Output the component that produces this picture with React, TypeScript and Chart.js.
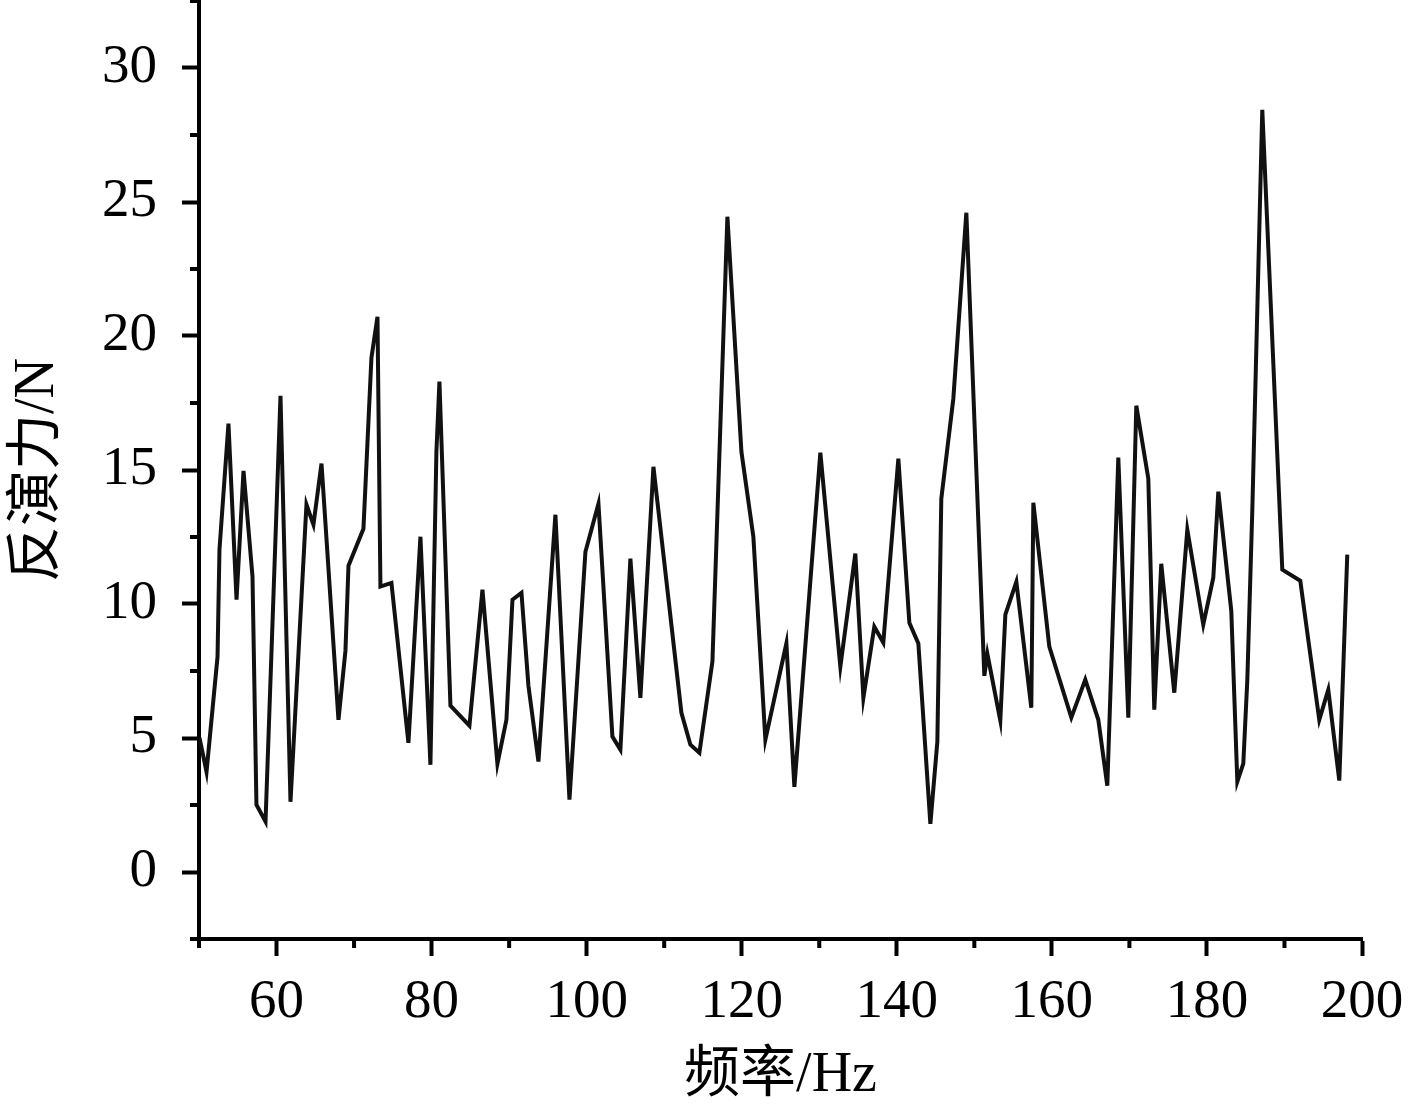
import React, { useEffect, useRef } from 'react';
import { Chart, registerables } from 'chart.js';

Chart.register(...registerables);

// Frequency (Hz) of each sample
const frequencies = [
  50.06, 50.97, 52.39, 52.64, 53.8, 54.84, 55.74, 56.9, 57.41, 58.58,
  60.51, 61.8, 63.86, 64.76, 65.8, 67.99, 68.89, 69.28, 71.21, 72.24,
  73.02, 73.4, 74.82, 77.01, 78.56, 79.85, 80.62, 81.01, 82.43, 84.88,
  86.56, 88.49, 89.65, 90.43, 91.59, 92.49, 93.78, 95.97, 97.78, 99.84,
  101.52, 103.32, 104.35, 105.64, 106.93, 108.61, 112.22, 113.38, 114.54, 116.22,
  118.15, 119.96, 121.5, 123.05, 125.76, 126.79, 130.14, 132.72, 134.65, 135.69,
  137.1, 138.26, 140.2, 141.62, 142.78, 144.33, 145.23, 145.74, 147.29, 148.97,
  151.29, 151.68, 153.35, 154.0, 155.42, 157.35, 157.61, 159.67, 162.51, 164.31,
  165.99, 167.15, 168.57, 169.86, 170.89, 172.44, 173.21, 174.11, 175.79, 177.47,
  179.53, 180.82, 181.47, 183.14, 183.92, 184.69, 185.21, 185.85, 187.14, 189.72,
  192.04, 193.07, 194.49, 195.65, 197.07, 198.1,
];

// Inverted force (N) at each frequency
const forces = [
  5.01, 3.74, 8.03, 12.03, 16.73, 10.16, 14.97, 11.02, 2.51, 1.88,
  17.77, 2.62, 13.71, 12.96, 15.24, 5.68, 8.26, 11.43, 12.81, 19.19,
  20.72, 10.65, 10.79, 4.82, 12.51, 4.0, 15.68, 18.3, 6.21, 5.46,
  10.53, 4.04, 5.68, 10.16, 10.42, 6.95, 4.12, 13.33, 2.7, 11.95,
  13.74, 5.05, 4.56, 11.69, 6.5, 15.12, 5.94, 4.75, 4.45, 7.85,
  24.45, 15.68, 12.51, 4.94, 8.53, 3.18, 15.65, 7.66, 11.88, 6.5,
  9.15, 8.56, 15.42, 9.3, 8.53, 1.8, 4.86, 13.93, 17.66, 24.6,
  7.32, 8.14, 5.65, 9.6, 10.83, 6.13, 13.78, 8.41, 5.76, 7.18,
  5.68, 3.22, 15.46, 5.76, 17.4, 14.68, 6.06, 11.5, 6.69, 12.77,
  9.23, 10.98, 14.19, 9.75, 3.37, 4.04, 7.18, 13.48, 28.44, 11.28,
  10.87, 8.67, 5.68, 6.8, 3.41, 11.84,
];

const xMajorTicks = [60, 80, 100, 120, 140, 160, 180, 200];
const xMinorTicks = [50, 70, 90, 110, 130, 150, 170, 190];
const yMajorTicks = [0, 5, 10, 15, 20, 25, 30];
const yMinorTicks = [-2.5, 2.5, 7.5, 12.5, 17.5, 22.5, 27.5, 32.5];

const xTitle = '频率/Hz';
const yTitle = '反演力/N';

const FONT = "'Liberation Serif', 'Noto Sans CJK SC', serif";

const minorTickPlugin = {
  id: 'minorTicks',
  afterDraw(chart: any) {
    const { ctx, chartArea, scales } = chart;
    const xs = scales.x;
    const ys = scales.y;
    ctx.save();
    ctx.strokeStyle = '#000';
    ctx.lineWidth = 4;
    ctx.lineCap = 'butt';
    ctx.beginPath();
    yMinorTicks.forEach((v) => {
      const py = ys.getPixelForValue(v);
      ctx.moveTo(chartArea.left, py);
      ctx.lineTo(chartArea.left - 9, py);
    });
    xMinorTicks.forEach((v) => {
      const px = xs.getPixelForValue(v);
      ctx.moveTo(px, chartArea.bottom);
      ctx.lineTo(px, chartArea.bottom + 9);
    });
    ctx.stroke();
    ctx.restore();
  },
};

export default function App() {
  const canvasRef = useRef<HTMLCanvasElement | null>(null);

  useEffect(() => {
    if (!canvasRef.current) return;
    const points = frequencies.map((f, i) => ({ x: f, y: forces[i] }));
    const chart = new Chart(canvasRef.current, {
      type: 'line',
      data: {
        datasets: [
          {
            data: points,
            borderColor: '#111111',
            borderWidth: 4,
            pointRadius: 0,
            tension: 0,
            fill: false,
            borderJoinStyle: 'miter',
          },
        ],
      },
      options: {
        responsive: false,
        animation: false,
        events: [],
        layout: { padding: { left: 0, right: 55, top: 1, bottom: 0 } },
        plugins: {
          legend: { display: false },
          tooltip: { enabled: false },
        },
        scales: {
          x: {
            type: 'linear',
            min: 50,
            max: 200,
            afterBuildTicks: (s: any) => {
              s.ticks = xMajorTicks.map((v) => ({ value: v }));
            },
            afterFit: (s: any) => {
              s.height = 165;
              s.paddingLeft = 0;
              s.paddingRight = 0;
            },
            grid: {
              drawOnChartArea: false,
              drawTicks: true,
              tickLength: 17,
              tickWidth: 4,
              tickColor: '#000',
            },
            border: { display: true, color: '#000', width: 4 },
            ticks: {
              autoSkip: false,
              maxRotation: 0,
              color: '#000',
              padding: 14,
              font: { family: FONT, size: 55, lineHeight: 1.2 },
            },
            title: {
              display: true,
              text: xTitle,
              color: '#000',
              padding: { top: 0, bottom: 0 },
              font: { family: FONT, size: 56, lineHeight: 1 },
            },
          },
          y: {
            type: 'linear',
            min: -2.5,
            max: 32.5,
            afterBuildTicks: (s: any) => {
              s.ticks = yMajorTicks.map((v) => ({ value: v }));
            },
            afterFit: (s: any) => {
              s.width = 199;
              s.paddingTop = 0;
              s.paddingBottom = 0;
            },
            grid: {
              drawOnChartArea: false,
              drawTicks: true,
              tickLength: 17,
              tickWidth: 4,
              tickColor: '#000',
            },
            border: { display: true, color: '#000', width: 4 },
            ticks: {
              autoSkip: false,
              color: '#000',
              padding: 25,
              font: { family: FONT, size: 55, lineHeight: 1.2 },
            },
            title: {
              display: true,
              text: yTitle,
              color: '#000',
              padding: { top: 10, bottom: 0 },
              font: { family: FONT, size: 56, lineHeight: 1 },
            },
          },
        },
      },
      plugins: [minorTickPlugin],
    } as any);
    return () => chart.destroy();
  }, []);

  return (
    <div style={{ position: 'absolute', left: 0, top: 0, width: 1417, height: 1104, background: '#fff' }}>
      <canvas ref={canvasRef} width={1417} height={1104} style={{ display: 'block' }} />
    </div>
  );
}
